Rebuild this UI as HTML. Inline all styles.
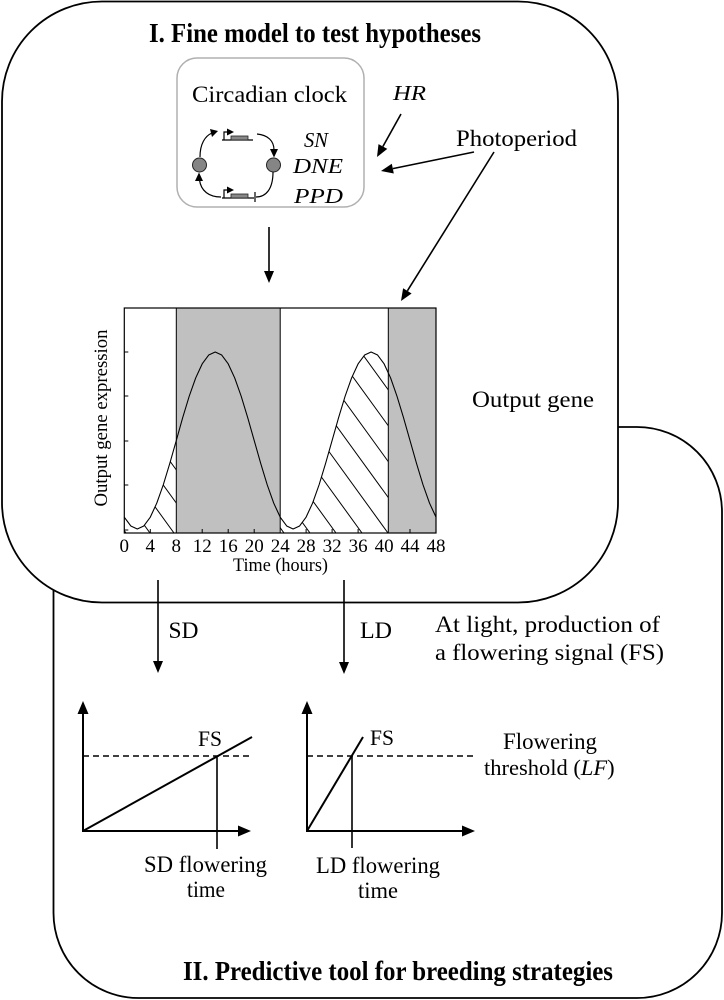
<!DOCTYPE html>
<html>
<head>
<meta charset="utf-8">
<style>
  html, body { margin: 0; padding: 0; background: #fff; }
  svg { display: block; }
  text { font-family: "Liberation Serif", "DejaVu Serif", serif; fill: #000; }
</style>
</head>
<body>
<svg width="724" height="1000" viewBox="0 0 724 1000" xmlns="http://www.w3.org/2000/svg">
  <defs>
    <clipPath id="h1">
      <polygon points="124.3,517.14 130.8,525.98 137.3,529 143.8,525.98 150.3,517.14 156.8,503.08 163.3,484.75 169.8,463.4 176.3,440.5 176.3,533 124.3,533"/>
    </clipPath>
    <clipPath id="h2">
      <polygon points="280.2,517.14 286.7,525.98 293.1,529 299.6,525.98 306.1,517.14 312.6,503.08 319.1,484.75 325.6,463.4 332.1,440.5 338.6,417.6 345.1,396.25 351.6,377.92 358.1,363.86 364.6,355.02 371.1,352 377.6,355.02 384.1,363.86 388.3,371.7 388.3,533 280.2,533"/>
    </clipPath>
  </defs>

  <!-- Box II (behind) -->
  <rect x="53.5" y="427" width="668.5" height="571" rx="85" ry="85" fill="#fff" stroke="#000" stroke-width="1.8"/>
  <!-- Box I -->
  <rect x="2" y="1.5" width="616" height="601" rx="100" ry="100" fill="#fff" stroke="#000" stroke-width="1.8"/>

  <!-- Title I -->
  <text x="149" y="42" font-size="27" font-weight="bold" textLength="332" lengthAdjust="spacingAndGlyphs">I. Fine model to test hypotheses</text>

  <!-- Circadian clock box -->
  <rect x="177" y="58" width="187" height="149" rx="20" ry="20" fill="#fff" stroke="#b0b0b0" stroke-width="1.5"/>
  <text x="192" y="102" font-size="23" textLength="155" lengthAdjust="spacingAndGlyphs">Circadian clock</text>

  <!-- clock loop -->
  <circle cx="199.5" cy="165" r="7" fill="#858585" stroke="#222" stroke-width="1"/>
  <circle cx="273.5" cy="165" r="7" fill="#858585" stroke="#222" stroke-width="1"/>
  <!-- top gene -->
  <line x1="222" y1="140" x2="253" y2="140" stroke="#000" stroke-width="1.2"/>
  <rect x="231" y="136" width="17" height="4" fill="#888" stroke="#222" stroke-width="0.8"/>
  <path d="M224,140 V132 H228" fill="none" stroke="#000" stroke-width="1.2"/>
  <polygon points="227,128.5 234,132 227,135.5" fill="#000"/>
  <!-- bottom gene -->
  <line x1="222" y1="198" x2="254" y2="198" stroke="#000" stroke-width="1.2"/>
  <rect x="231" y="194" width="17" height="4" fill="#888" stroke="#222" stroke-width="0.8"/>
  <path d="M224,198 V190 H228" fill="none" stroke="#000" stroke-width="1.2"/>
  <polygon points="227,186.5 234,190 227,193.5" fill="#000"/>
  <line x1="255" y1="192" x2="255" y2="202" stroke="#000" stroke-width="1.2"/>
  <!-- arcs -->
  <path d="M200,157 C200,144 205,136 212,133" fill="none" stroke="#000" stroke-width="1.2"/>
  <polygon points="218,131 210,129 212,137" fill="#000"/>
  <path d="M257,134 C268,135 274,141 274,150" fill="none" stroke="#000" stroke-width="1.2"/>
  <polygon points="274,157.5 270,149 278,149" fill="#000"/>
  <path d="M273,172 C273,189 266,197 256,197" fill="none" stroke="#000" stroke-width="1.2"/>
  <path d="M221,197 C209,197 201,191 199.5,180" fill="none" stroke="#000" stroke-width="1.2"/>
  <polygon points="199,172.5 195,181 203,181" fill="#000"/>

  <text x="304" y="147" font-size="21" font-style="italic" textLength="24" lengthAdjust="spacingAndGlyphs">SN</text>
  <text x="293" y="173" font-size="21" font-style="italic" textLength="50" lengthAdjust="spacingAndGlyphs">DNE</text>
  <text x="294" y="203" font-size="21" font-style="italic" textLength="49" lengthAdjust="spacingAndGlyphs">PPD</text>

  <text x="393" y="100" font-size="21" font-style="italic" textLength="33" lengthAdjust="spacingAndGlyphs">HR</text>
  <text x="456" y="146" font-size="23" textLength="121" lengthAdjust="spacingAndGlyphs">Photoperiod</text>

  <!-- HR arrow -->
  <line x1="401" y1="114" x2="382.9" y2="146.5" stroke="#000" stroke-width="1.6"/>
  <polygon points="377,157 378.5,144.1 387.3,148.9" fill="#000"/>
  <!-- Photoperiod arrow 1 -->
  <line x1="474" y1="152" x2="392.8" y2="168.6" stroke="#000" stroke-width="1.6"/>
  <polygon points="381,171 391.8,163.7 393.8,173.5" fill="#000"/>
  <!-- Photoperiod arrow 2 -->
  <line x1="494" y1="152" x2="407.4" y2="290.8" stroke="#000" stroke-width="1.6"/>
  <polygon points="401,301 403.1,288.2 411.6,293.5" fill="#000"/>
  <!-- clock -> chart -->
  <line x1="269" y1="227" x2="269" y2="272" stroke="#000" stroke-width="1.6"/>
  <polygon points="264,271 274,271 269,283" fill="#000"/>

  <!-- Chart -->
  <rect x="124.3" y="308" width="311.7" height="225" fill="#fff"/>
  <rect x="176.3" y="308" width="103.9" height="225" fill="#c0c0c0"/>
  <rect x="388.3" y="308" width="47.7" height="225" fill="#c0c0c0"/>

  <g clip-path="url(#h1)" stroke="#000" stroke-width="1">
    <line x1="-54" y1="284.6" x2="126" y2="533"/>
    <line x1="-30" y1="284.6" x2="150" y2="533"/>
    <line x1="-6" y1="284.6" x2="174" y2="533"/>
    <line x1="18" y1="284.6" x2="198" y2="533"/>
    <line x1="42" y1="284.6" x2="222" y2="533"/>
  </g>
  <g clip-path="url(#h2)" stroke="#000" stroke-width="1">
    <line x1="104" y1="284.6" x2="284" y2="533"/>
    <line x1="130" y1="284.6" x2="310" y2="533"/>
    <line x1="156" y1="284.6" x2="336" y2="533"/>
    <line x1="182" y1="284.6" x2="362" y2="533"/>
    <line x1="208" y1="284.6" x2="388" y2="533"/>
    <line x1="234" y1="284.6" x2="414" y2="533"/>
    <line x1="260" y1="284.6" x2="440" y2="533"/>
    <line x1="286" y1="284.6" x2="466" y2="533"/>
    <line x1="312" y1="284.6" x2="492" y2="533"/>
    <line x1="338" y1="284.6" x2="518" y2="533"/>
  </g>

  <polyline fill="none" stroke="#000" stroke-width="1.1" stroke-linejoin="round"
    points="124.3,517.14 130.8,525.98 137.3,529 143.8,525.98 150.3,517.14 156.8,503.08 163.3,484.75 169.8,463.4 176.3,440.5 182.7,417.6 189.2,396.25 195.7,377.92 202.2,363.86 208.7,355.02 215.2,352 221.7,355.02 228.2,363.86 234.7,377.92 241.2,396.25 247.7,417.6 254.2,440.5 260.7,463.4 267.2,484.75 273.7,503.08 280.2,517.14 286.7,525.98 293.1,529 299.6,525.98 306.1,517.14 312.6,503.08 319.1,484.75 325.6,463.4 332.1,440.5 338.6,417.6 345.1,396.25 351.6,377.92 358.1,363.86 364.6,355.02 371.1,352 377.6,355.02 384.1,363.86 390.6,377.92 397.0,396.25 403.5,417.6 410.0,440.5 416.5,463.4 423.0,484.75 429.5,503.08 436.0,517.14"/>

  <line x1="176.3" y1="308" x2="176.3" y2="533" stroke="#000" stroke-width="1"/>
  <line x1="280.2" y1="308" x2="280.2" y2="533" stroke="#000" stroke-width="1"/>
  <line x1="388.3" y1="308" x2="388.3" y2="533" stroke="#000" stroke-width="1"/>
  <rect x="124.3" y="308" width="311.7" height="225" fill="none" stroke="#000" stroke-width="1.2"/>

  <!-- y ticks -->
  <g stroke="#000" stroke-width="1">
    <line x1="124.3" y1="352" x2="128.3" y2="352"/>
    <line x1="124.3" y1="396" x2="128.3" y2="396"/>
    <line x1="124.3" y1="441" x2="128.3" y2="441"/>
    <line x1="124.3" y1="485" x2="128.3" y2="485"/>
    <line x1="124.3" y1="530" x2="128.3" y2="530"/>
    <!-- x ticks -->
    <line x1="150.3" y1="533" x2="150.3" y2="529"/>
    <line x1="202.2" y1="533" x2="202.2" y2="529"/>
    <line x1="228.2" y1="533" x2="228.2" y2="529"/>
    <line x1="254.2" y1="533" x2="254.2" y2="529"/>
    <line x1="306.1" y1="533" x2="306.1" y2="529"/>
    <line x1="332.1" y1="533" x2="332.1" y2="529"/>
    <line x1="358.1" y1="533" x2="358.1" y2="529"/>
    <line x1="410.0" y1="533" x2="410.0" y2="529"/>
  </g>

  <!-- tick labels -->
  <g font-size="19" text-anchor="middle">
    <text x="124.3" y="552">0</text>
    <text x="150.3" y="552">4</text>
    <text x="176.3" y="552">8</text>
    <text x="202.2" y="552">12</text>
    <text x="228.2" y="552">16</text>
    <text x="254.2" y="552">20</text>
    <text x="280.2" y="552">24</text>
    <text x="306.1" y="552">28</text>
    <text x="332.1" y="552">32</text>
    <text x="358.1" y="552">36</text>
    <text x="384.1" y="552">40</text>
    <text x="410.0" y="552">44</text>
    <text x="436.0" y="552">48</text>
  </g>
  <text x="233" y="571" font-size="19" textLength="95" lengthAdjust="spacingAndGlyphs">Time (hours)</text>
  <text transform="translate(107,418) rotate(-90)" x="0" y="0" font-size="18.5" text-anchor="middle" textLength="177" lengthAdjust="spacingAndGlyphs">Output gene expression</text>

  <text x="472" y="407" font-size="23" textLength="122" lengthAdjust="spacingAndGlyphs">Output gene</text>

  <!-- SD / LD arrows -->
  <line x1="158" y1="580" x2="158" y2="662" stroke="#000" stroke-width="1.6"/>
  <polygon points="153,661 163,661 158,673" fill="#000"/>
  <line x1="344" y1="580" x2="344" y2="663" stroke="#000" stroke-width="1.6"/>
  <polygon points="339,662 349,662 344,674" fill="#000"/>
  <text x="168.5" y="638" font-size="23" textLength="30" lengthAdjust="spacingAndGlyphs">SD</text>
  <text x="360" y="638" font-size="23" textLength="32" lengthAdjust="spacingAndGlyphs">LD</text>

  <text x="435" y="632" font-size="23.5" textLength="225" lengthAdjust="spacingAndGlyphs">At light, production of</text>
  <text x="435" y="660" font-size="23.5" textLength="229" lengthAdjust="spacingAndGlyphs">a flowering signal (FS)</text>

  <!-- SD graph -->
  <line x1="83" y1="832" x2="83" y2="713" stroke="#000" stroke-width="2"/>
  <polygon points="77.5,714 88.5,714 83,701" fill="#000"/>
  <line x1="82" y1="831" x2="239" y2="831" stroke="#000" stroke-width="2"/>
  <polygon points="238,825.5 238,836.5 251,831" fill="#000"/>
  <line x1="83" y1="756" x2="253" y2="756" stroke="#000" stroke-width="1.5" stroke-dasharray="6 4"/>
  <line x1="83" y1="831" x2="252" y2="737" stroke="#000" stroke-width="2"/>
  <line x1="217" y1="756" x2="217" y2="849" stroke="#000" stroke-width="1.6"/>
  <text x="198" y="746" font-size="22" textLength="24" lengthAdjust="spacingAndGlyphs">FS</text>
  <text x="144" y="872" font-size="23" textLength="123" lengthAdjust="spacingAndGlyphs">SD flowering</text>
  <text x="187" y="897" font-size="23" textLength="38" lengthAdjust="spacingAndGlyphs">time</text>

  <!-- LD graph -->
  <line x1="307" y1="832" x2="307" y2="713" stroke="#000" stroke-width="2"/>
  <polygon points="301.5,714 312.5,714 307,701" fill="#000"/>
  <line x1="306" y1="831" x2="463" y2="831" stroke="#000" stroke-width="2"/>
  <polygon points="462,825.5 462,836.5 475,831" fill="#000"/>
  <line x1="307" y1="756" x2="477" y2="756" stroke="#000" stroke-width="1.5" stroke-dasharray="6 4"/>
  <line x1="307" y1="831" x2="363" y2="737" stroke="#000" stroke-width="2"/>
  <line x1="352" y1="756" x2="352" y2="848" stroke="#000" stroke-width="1.6"/>
  <text x="370" y="745" font-size="22" textLength="24" lengthAdjust="spacingAndGlyphs">FS</text>
  <text x="316" y="873" font-size="23" textLength="124" lengthAdjust="spacingAndGlyphs">LD flowering</text>
  <text x="358" y="898" font-size="23" textLength="40" lengthAdjust="spacingAndGlyphs">time</text>

  <text x="503" y="749" font-size="23" textLength="94" lengthAdjust="spacingAndGlyphs">Flowering</text>
  <text x="484" y="775" font-size="22.5">threshold (<tspan font-style="italic">LF</tspan>)</text>

  <!-- Title II -->
  <text x="183" y="980" font-size="27" font-weight="bold" textLength="430" lengthAdjust="spacingAndGlyphs">II. Predictive tool for breeding strategies</text>
</svg>
</body>
</html>
